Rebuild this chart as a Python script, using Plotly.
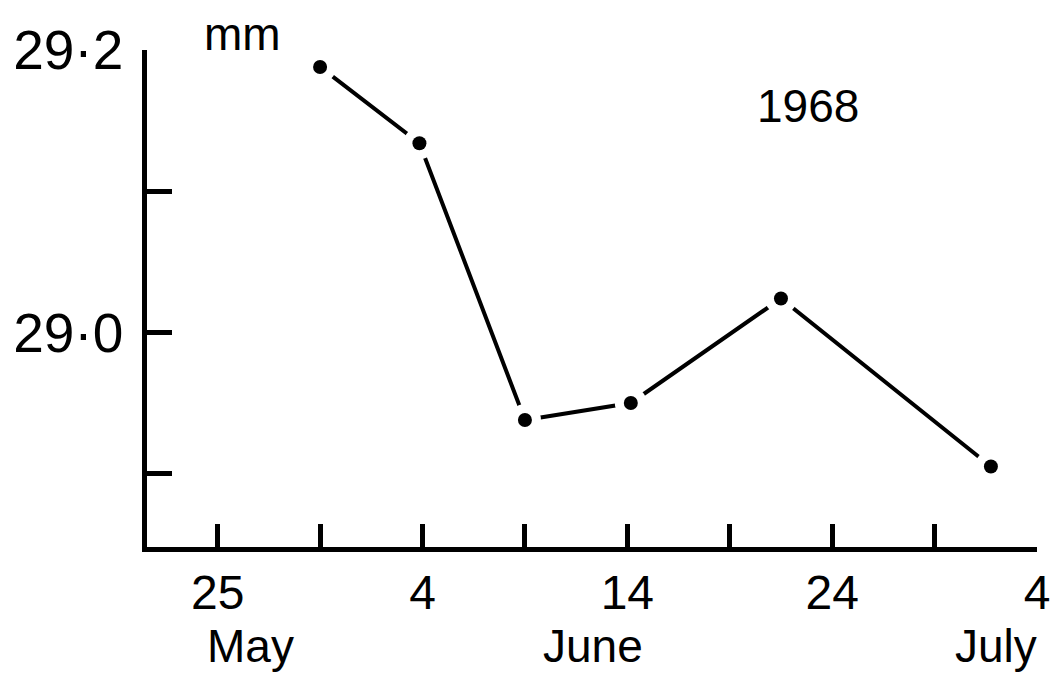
import plotly.graph_objects as go

# Data: day index counted from 1 May (0 = 1 May), values in mm
days = [29.0, 33.85, 39.0, 44.17, 51.5, 61.75]
values = [29.188, 29.134, 28.938, 28.950, 29.024, 28.905]

x_tickvals = [24, 29, 34, 39, 44, 49, 54, 59, 64]
x_ticktext = ["25", "", "4", "", "14", "", "24", "", "4"]
y_tickvals = [28.9, 29.0, 29.1, 29.2]
y_ticktext = ["", "29·0", "", "29·2"]

months = ["May", "June", "July"]
month_x = [25.6, 42.3, 62.0]

FONT = "Liberation Sans, Arial, sans-serif"

fig = go.Figure()
fig.add_trace(go.Scatter(x=days, y=values, mode="lines",
                         line=dict(color="black", width=4),
                         hoverinfo="skip", showlegend=False))
fig.add_trace(go.Scatter(x=days, y=values, mode="markers",
                         marker=dict(color="white", size=32, line=dict(width=0)),
                         hoverinfo="skip", showlegend=False))
fig.add_trace(go.Scatter(x=days, y=values, mode="markers",
                         marker=dict(color="black", size=14, line=dict(width=0)),
                         showlegend=False))

for m, mx in zip(months, month_x):
    fig.add_annotation(x=mx, y=-0.2, xref="x", yref="paper", text=m,
                       showarrow=False, xanchor="center", yanchor="middle",
                       font=dict(family=FONT, size=46, color="black"))

fig.add_annotation(x=0.107, y=1.032, xref="paper", yref="paper", text="mm",
                   showarrow=False, xanchor="center", yanchor="middle",
                   font=dict(family=FONT, size=46, color="black"))
fig.add_annotation(x=52.8, y=29.160, xref="x", yref="y", text="1968",
                   showarrow=False, xanchor="center", yanchor="middle",
                   font=dict(family=FONT, size=46, color="black"))

fig.update_xaxes(range=[20.55, 64.0], tickvals=x_tickvals, ticktext=x_ticktext,
                 ticks="inside", ticklen=23, tickwidth=4.5, tickcolor="black",
                 showline=True, linewidth=4.5, linecolor="black",
                 showgrid=False, zeroline=False,
                 tickfont=dict(family=FONT, size=48, color="black"),
                 ticklabelstandoff=0)
fig.update_yaxes(range=[28.848, 29.2], tickvals=y_tickvals, ticktext=y_ticktext,
                 ticks="inside", ticklen=25, tickwidth=4.5, tickcolor="black",
                 showline=True, linewidth=4.5, linecolor="black",
                 showgrid=False, zeroline=False,
                 tickfont=dict(family=FONT, size=55, color="black"),
                 ticklabelstandoff=8)

fig.update_layout(width=1062, height=680,
                  margin=dict(l=147, r=25, t=50, b=133),
                  plot_bgcolor="white", paper_bgcolor="white")

fig.write_html("out.html")
